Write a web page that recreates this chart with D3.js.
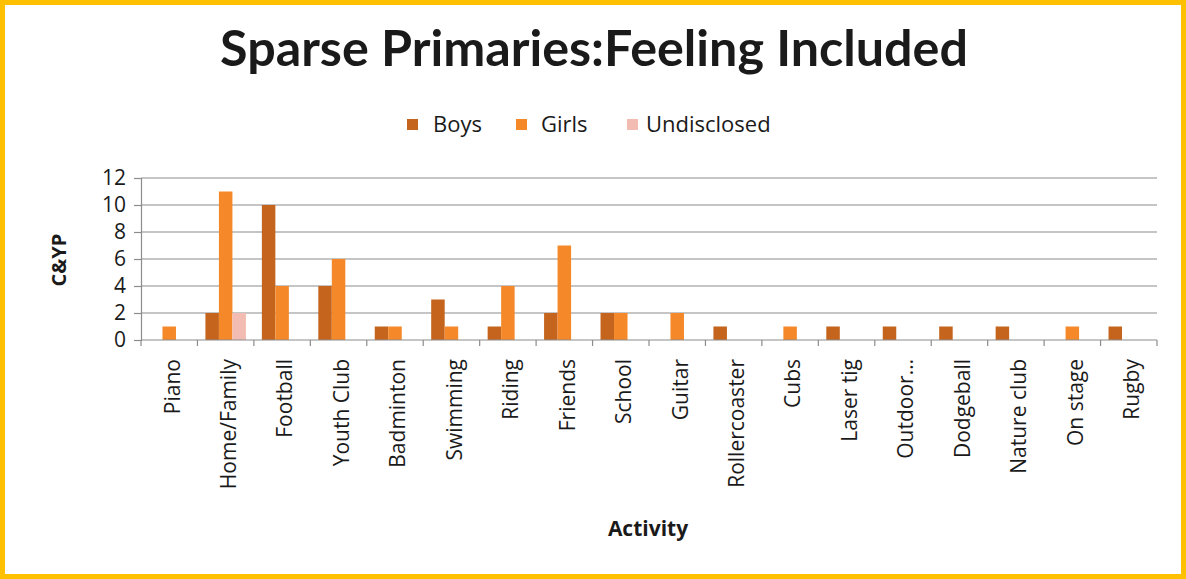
<!DOCTYPE html>
<html>
<head>
<meta charset="utf-8">
<script src="https://cdn.jsdelivr.net/npm/d3@7"></script>
<style>
  html, body { margin: 0; padding: 0; background: #fff; }
  svg { display: block; }
  text { font-family: "Open Sans", Lato, sans-serif; fill: #1a1a1a; }
</style>
</head>
<body>
<svg id="chart" width="1186" height="579"></svg>
<script>
const categories = ["Piano", "Home/Family", "Football", "Youth Club", "Badminton", "Swimming", "Riding", "Friends", "School", "Guitar", "Rollercoaster", "Cubs", "Laser tig", "Outdoor…", "Dodgeball", "Nature club", "On stage", "Rugby"];
const boys        = [0, 2, 10, 4, 1, 3, 1, 2, 2, 0, 1, 0, 1, 1, 1, 1, 0, 1];
const girls       = [1, 11, 4, 6, 1, 1, 4, 7, 2, 2, 0, 1, 0, 0, 0, 0, 1, 0];
const undisclosed = [0, 2, 0, 0, 0, 0, 0, 0, 0, 0, 0, 0, 0, 0, 0, 0, 0, 0];
const seriesNames = ["Boys", "Girls", "Undisclosed"];
const yTicks = [0, 2, 4, 6, 8, 10, 12];

const colors = { Boys: "#C4641D", Girls: "#F5892A", Undisclosed: "#F3BCB2" };
const seriesData = [boys, girls, undisclosed];

const svg = d3.select("#chart");
const W = 1186, H = 579;

// yellow frame
svg.append("rect").attr("x", 2.5).attr("y", 2.5).attr("width", W - 5).attr("height", H - 5)
  .attr("fill", "#fff").attr("stroke", "#FFC000").attr("stroke-width", 5);

const plot = { left: 141, right: 1157, top: 178, bottom: 340 };

const x = d3.scaleBand().domain(categories).range([plot.left, plot.right]).paddingInner(0).paddingOuter(0);
const xs = d3.scaleBand().domain(seriesNames).range([0, 40.5]).padding(0);
const y = d3.scaleLinear().domain([0, 12]).range([plot.bottom, plot.top]);

// gridlines
svg.append("g").selectAll("line").data(yTicks.filter(d => d > 0)).join("line")
  .attr("x1", plot.left).attr("x2", plot.right)
  .attr("y1", d => y(d)).attr("y2", d => y(d))
  .attr("stroke", "#8c8c8c").attr("stroke-width", 1.2);

// bars
const groupOffset = (x.bandwidth() - 40.5) / 2;
seriesNames.forEach((s, si) => {
  svg.append("g").selectAll("rect")
    .data(categories.map((c, i) => ({ c, v: seriesData[si][i] })).filter(d => d.v > 0))
    .join("rect")
    .attr("x", d => x(d.c) + groupOffset + xs(s))
    .attr("width", xs.bandwidth())
    .attr("y", d => y(d.v))
    .attr("height", d => y(0) - y(d.v))
    .attr("fill", colors[s]);
});

// y axis
const yAxis = d3.axisLeft(y).tickValues(yTicks).tickSize(7).tickPadding(8);
const gy = svg.append("g").attr("transform", `translate(${plot.left},0)`).call(yAxis);
gy.select(".domain").attr("stroke", "#8c8c8c").attr("stroke-width", 1.2);
gy.selectAll(".tick line").attr("stroke", "#8c8c8c").attr("stroke-width", 1.2);
gy.selectAll("text").style("font-size", "21px").style("font-family", "'Open Sans', sans-serif").attr("fill", "#1a1a1a");

// x axis
const gx = svg.append("g").attr("transform", `translate(0,${plot.bottom})`);
gx.append("line").attr("x1", plot.left).attr("x2", plot.right).attr("stroke", "#8c8c8c").attr("stroke-width", 1.2);
const bounds = categories.map(c => x(c)).concat([plot.right]);
gx.selectAll("line.tk").data(bounds).join("line").attr("class", "tk")
  .attr("x1", d => d).attr("x2", d => d).attr("y1", 0).attr("y2", 6)
  .attr("stroke", "#8c8c8c").attr("stroke-width", 1.2);
gx.selectAll("text").data(categories).join("text")
  .attr("transform", d => `translate(${x(d) + x.bandwidth() / 2 + 3},19) rotate(-90)`)
  .attr("text-anchor", "end").attr("dy", "0.35em")
  .style("font-size", "21px")
  .text(d => d);

// titles
const title = svg.append("text").attr("x", 594).attr("y", 66).attr("text-anchor", "middle")
  .style("font-family", "Lato, sans-serif")
  .style("font-size", "44px").style("font-weight", "bold").attr("fill", "#000")
  .text("Sparse Primaries:Feeling Included");
const tw = title.node().getComputedTextLength();
title.style("font-size", (44 * 748 / tw) + "px");

svg.append("text").attr("transform", "translate(59,260) rotate(-90)").attr("text-anchor", "middle")
  .attr("dy", "0.35em")
  .style("font-size", "20px").style("font-weight", "bold").attr("fill", "#000").text("C&YP");

svg.append("text").attr("x", 648).attr("y", 536).attr("text-anchor", "middle")
  .style("font-size", "21px").style("font-weight", "bold").attr("fill", "#000").text("Activity");

// legend
const legendX = [407, 516, 627];
const legendTextX = [433, 541, 646];
const lg = svg.append("g");
seriesNames.forEach((s, i) => {
  lg.append("rect").attr("x", legendX[i]).attr("y", 119).attr("width", 11).attr("height", 11).attr("fill", colors[s]);
  lg.append("text").attr("x", legendTextX[i]).attr("y", 132).style("font-size", "22px").text(s);
});
</script>
</body>
</html>
